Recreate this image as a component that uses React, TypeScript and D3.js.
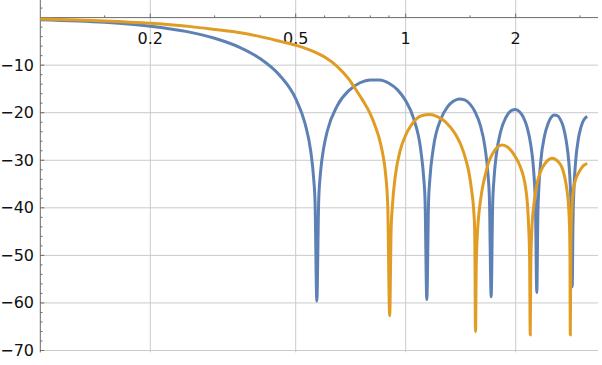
import { useRef, useEffect } from "react";
import * as d3 from "d3";

// blue curve: frequency (rad) and magnitude (dB)
const blueFreq = [
  0.1, 0.15, 0.2, 0.25, 0.3, 0.35, 0.4, 0.45, 0.5, 0.53, 0.55, 0.56, 0.565, 0.5712,
  0.578, 0.585, 0.595, 0.61, 0.65, 0.7, 0.75, 0.8, 0.85, 0.9, 0.95, 1.0, 1.05, 1.1,
  1.12, 1.13, 1.1424, 1.155, 1.165, 1.19, 1.25, 1.3, 1.35, 1.4, 1.45, 1.5, 1.55, 1.6,
  1.65, 1.68, 1.695, 1.7136, 1.73, 1.745, 1.77, 1.82, 1.88, 1.95, 2.0, 2.05, 2.1, 2.15,
  2.2, 2.23, 2.25, 2.265, 2.2848, 2.3, 2.315, 2.34, 2.4, 2.45, 2.5, 2.55, 2.6, 2.65,
  2.7, 2.75, 2.8, 2.82, 2.84, 2.856, 2.87, 2.89, 2.92, 2.97, 3.0, 3.05, 3.1, 3.1416,
];
const blueDb = [
  -0.44, -1.0, -1.81, -2.9, -4.34, -6.2, -8.64, -11.98, -17.06, -22.2, -28.2, -33.9, -39.1, -59.6,
  -38.5, -32.4, -27.9, -23.9, -18.5, -15.3, -13.7, -13.1, -13.1, -13.8, -15.2, -17.5, -21.1, -27.9,
  -33.6, -38.7, -59.3, -38.8, -33.8, -27.5, -21.2, -18.8, -17.6, -17.1, -17.3, -18.2, -19.9, -22.6,
  -27.5, -33.0, -38.1, -58.7, -39.4, -33.8, -28.9, -23.9, -21.0, -19.5, -19.3, -19.8, -21.0, -23.1,
  -26.8, -30.4, -34.4, -39.2, -57.8, -41.6, -35.7, -30.6, -24.8, -22.4, -21.0, -20.5, -20.6, -21.4,
  -23.0, -25.9, -31.0, -34.9, -41.9, -56.6, -43.0, -35.4, -30.0, -25.4, -23.8, -22.0, -21.1, -20.8,
];

// orange curve
const orangeFreq = [
  0.1, 0.15, 0.2, 0.258, 0.3, 0.353, 0.4, 0.454, 0.5, 0.55, 0.6, 0.65, 0.7, 0.72, 0.76,
  0.797, 0.825, 0.845, 0.865, 0.88, 0.893, 0.904, 0.912, 0.92, 0.937, 0.967, 1.0, 1.03, 1.07,
  1.11, 1.163, 1.22, 1.28, 1.33, 1.38, 1.42, 1.46, 1.49, 1.515, 1.535, 1.545, 1.553, 1.56,
  1.574, 1.59, 1.618, 1.65, 1.686, 1.73, 1.78, 1.834, 1.89, 1.95, 2.0, 2.05, 2.1, 2.13,
  2.155, 2.172, 2.184, 2.192, 2.2, 2.215, 2.24, 2.28, 2.334, 2.4, 2.46, 2.515, 2.57, 2.62, 2.676,
  2.72, 2.76, 2.792, 2.808, 2.816, 2.822, 2.83, 2.84, 2.852, 2.88, 2.92, 2.975, 3.03, 3.08, 3.1416,
];
const orangeDb = [
  -0.3, -0.7, -1.2, -1.9, -2.5, -3.2, -4.0, -5.0, -5.8, -6.9, -8.3, -10.3, -13.0, -14.4, -17.2,
  -20.0, -22.8, -25.2, -28.6, -32.5, -39.5, -62.7, -45.0, -39.5, -33.2, -27.8, -24.7, -22.9, -21.3,
  -20.6, -20.4, -20.8, -21.8, -23.2, -25.0, -27.0, -29.8, -32.6, -36.3, -40.5, -45.0, -66.0, -52.0,
  -44.5, -40.5, -36.3, -33.2, -30.5, -28.6, -27.3, -26.8, -27.1, -28.1, -29.4, -31.0, -33.4, -35.8,
  -39.5, -44.5, -51.0, -66.7, -52.0, -44.5, -39.8, -35.5, -32.6, -30.8, -29.9, -29.6, -29.8, -30.4, -31.5,
  -33.3, -36.0, -39.8, -44.0, -50.0, -66.7, -50.0, -43.5, -39.8, -36.0, -34.0, -32.6, -31.6, -31.0, -30.7,
];

const xMajor = [0.2, 0.5, 1, 2];
const xMinor = [0.15, 0.3, 0.4, 0.6, 0.7, 0.8, 0.9, 1.5, 3];
const yMajor = [-70, -60, -50, -40, -30, -20, -10];

const WIDTH = 602;
const HEIGHT = 365;

export default function App() {
  const svgRef = useRef<SVGSVGElement>(null);

  useEffect(() => {
    document.body.style.margin = "0";
    if (!svgRef.current) return;
    const svg = d3.select(svgRef.current);
    svg.selectAll("*").remove();

    const x = d3.scaleLog().domain([0.1, 3.36]).range([40.3, 598]);
    const y = d3.scaleLinear().domain([-70.4, 3.7]).range([352.4, 0]);
    const x0 = x(0.1);
    const y0 = y(0);

    // grid
    const grid = svg.append("g").attr("stroke", "#cacaca").attr("stroke-width", 1);
    xMajor.forEach((v) => {
      grid.append("line")
        .attr("x1", x(v)).attr("x2", x(v))
        .attr("y1", 0).attr("y2", y(-70.4));
    });
    yMajor.forEach((v) => {
      grid.append("line")
        .attr("x1", x0).attr("x2", 598)
        .attr("y1", y(v)).attr("y2", y(v));
    });

    // axes
    const ax = svg.append("g").attr("stroke", "#6a6a6a").attr("stroke-width", 1);
    ax.append("line").attr("x1", x0).attr("x2", 598).attr("y1", y0).attr("y2", y0);
    ax.append("line").attr("x1", x0).attr("x2", x0).attr("y1", 0).attr("y2", y(-70.4));

    xMajor.forEach((v) => {
      ax.append("line").attr("x1", x(v)).attr("x2", x(v)).attr("y1", y0).attr("y2", y0 - 4);
    });
    xMinor.forEach((v) => {
      ax.append("line").attr("x1", x(v)).attr("x2", x(v)).attr("y1", y0).attr("y2", y0 - 2.2);
    });
    d3.range(-70, 3, 2).forEach((v) => {
      const major = v % 10 === 0;
      ax.append("line")
        .attr("x1", x0).attr("x2", x0 + (major ? 4 : 2.2))
        .attr("y1", y(v)).attr("y2", y(v));
    });

    // tick labels
    const labels = svg.append("g")
      .attr("font-family", "'DejaVu Sans', sans-serif")
      .attr("font-size", 16)
      .attr("fill", "#111");
    xMajor.forEach((v) => {
      labels.append("text")
        .attr("x", x(v)).attr("y", y0 + 26)
        .attr("text-anchor", "middle")
        .text(String(v));
    });
    yMajor.forEach((v) => {
      labels.append("text")
        .attr("x", 34).attr("y", y(v))
        .attr("text-anchor", "end")
        .attr("dominant-baseline", "central")
        .text(`\u2212${Math.abs(v)}`);
    });

    // curves
    const line = d3.line<[number, number]>()
      .x((d) => x(d[0]))
      .y((d) => y(d[1]))
      .curve(d3.curveMonotoneX);

    const series = [
      { f: blueFreq, db: blueDb, color: "#5e81b5" },
      { f: orangeFreq, db: orangeDb, color: "#e19c24" },
    ];
    series.forEach((s) => {
      const pts = s.f.map((f, i) => [f, s.db[i]] as [number, number]);
      svg.append("path")
        .datum(pts)
        .attr("fill", "none")
        .attr("stroke", s.color)
        .attr("stroke-width", 3)
        .attr("d", line);
    });
  }, []);

  return <svg ref={svgRef} width={WIDTH} height={HEIGHT} style={{ display: "block" }} />;
}
